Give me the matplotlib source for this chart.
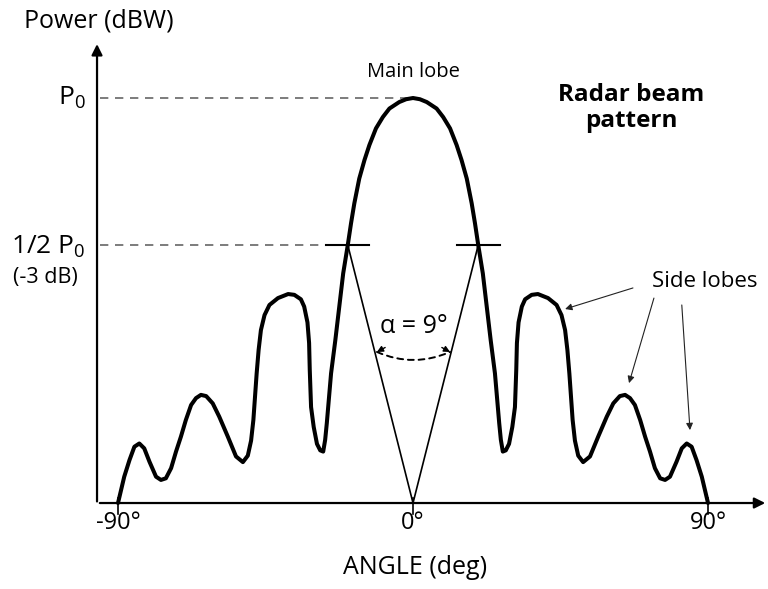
import matplotlib
matplotlib.use("Agg")
import matplotlib.pyplot as plt

# --- Data (right half; the pattern is symmetric) ---
angle_right = [0.0, 2.1, 4.2, 7.2, 9.2, 11.3, 13.3, 14.8, 16.4, 17.9, 18.9, 19.9,
               21.3, 22.5, 23.7, 25.0, 25.7, 26.3, 26.8, 27.4, 28.3, 29.3, 30.3,
               31.1, 31.5, 31.7, 32.2, 33.2, 34.2, 36.2, 38.1, 41.2, 43.8, 45.3,
               46.4, 47.1, 47.7, 48.2, 48.7, 49.4, 50.4, 51.9, 54.0, 56.5, 59.1,
               61.1, 63.1, 64.7, 66.2, 67.7, 69.3, 70.8, 72.3, 73.8, 75.4, 76.9,
               78.4, 80.4, 82.0, 83.5, 85.0, 86.5, 88.1, 89.3, 90.0]
power_right = [1.000, 0.997, 0.990, 0.974, 0.953, 0.925, 0.884, 0.847, 0.801,
               0.740, 0.691, 0.637, 0.567, 0.485, 0.402, 0.320, 0.254, 0.197,
               0.156, 0.127, 0.130, 0.146, 0.188, 0.237, 0.329, 0.395, 0.446,
               0.485, 0.503, 0.514, 0.516, 0.506, 0.489, 0.464, 0.427, 0.378,
               0.320, 0.262, 0.205, 0.154, 0.117, 0.101, 0.115, 0.164, 0.213,
               0.246, 0.264, 0.267, 0.259, 0.242, 0.205, 0.164, 0.127, 0.086,
               0.061, 0.057, 0.065, 0.102, 0.135, 0.147, 0.139, 0.106, 0.065,
               0.024, 0.0]

angle = [-a for a in angle_right[::-1]] + angle_right[1:]
power = power_right[::-1] + power_right[1:]

P0 = 1.0
HALF_P0 = 0.637
HALF_ANGLE = 19.9
ARC_ANGLE = 11.0
ARC_LEVEL = 0.373
xticks = [-90, 0, 90]
xtick_labels = ["-90°", "0°", "90°"]

# --- Style ---
plt.rcParams["font.family"] = ["Open Sans", "DejaVu Sans"]
plt.rcParams["mathtext.fontset"] = "custom"
plt.rcParams["mathtext.rm"] = "Open Sans"
plt.rcParams["mathtext.it"] = "Open Sans"

fig = plt.figure(figsize=(7.68, 5.89), dpi=100)
ax = fig.add_axes([0, 0, 1, 1])
ax.set_xlim(-126.0, 108.3)
ax.set_ylim(-0.2123, 1.2420)
ax.axis("off")

# --- Axes drawn as arrows ---
y_axis_x = -96.4
ax.annotate("", xy=(y_axis_x, 1.14), xytext=(y_axis_x, -0.003),
            arrowprops=dict(arrowstyle="-|>", lw=1.6, color="black", mutation_scale=16))
ax.annotate("", xy=(108.3, 0.0), xytext=(y_axis_x, 0.0),
            arrowprops=dict(arrowstyle="-|>", lw=1.6, color="black", mutation_scale=16))
for t, lab in zip(xticks, xtick_labels):
    ax.plot([t, t], [0.012, -0.027], color="black", lw=1.2)
    ax.text(t, -0.05, lab, ha="center", va="center", fontsize=17)
ax.text(0.5, -0.158, "ANGLE (deg)", ha="center", va="center", fontsize=18)
ax.text(-95.9, 1.19, "Power (dBW)", ha="center", va="center", fontsize=18)

# --- Reference levels ---
ax.plot([y_axis_x + 0.8, 0], [P0, P0], color="#666666", lw=1.2, dashes=(5, 4))
ax.plot([y_axis_x + 0.8, -26.5], [HALF_P0, HALF_P0], color="#666666", lw=1.2, dashes=(5, 4))
ax.text(-99.8, P0, r"P$_0$", ha="right", va="center", fontsize=19)
ax.text(-99.8, HALF_P0 - 0.005, r"1/2 P$_0$", ha="right", va="center", fontsize=19)
ax.text(-112.3, 0.556, "(-3 dB)", ha="center", va="center", fontsize=15.5)

# --- Beam pattern ---
ax.plot(angle, power, color="black", lw=2.9, solid_joinstyle="round", solid_capstyle="round")

# half-power markers and beam-width lines
for s in (-1, 1):
    ax.plot([s * HALF_ANGLE - 6.6, s * HALF_ANGLE + 6.6], [HALF_P0, HALF_P0], color="black", lw=1.5)
    ax.plot([s * HALF_ANGLE, 0], [HALF_P0, 0], color="black", lw=1.2)

# beam width arc
ax.annotate("", xy=(ARC_ANGLE + 0.3, ARC_LEVEL), xytext=(-ARC_ANGLE, ARC_LEVEL),
            arrowprops=dict(arrowstyle="-", lw=1.4, ls=(0, (3, 2.5)), color="black",
                            connectionstyle="arc3,rad=0.22", shrinkA=0, shrinkB=0))
ax.annotate("", xy=(-ARC_ANGLE, ARC_LEVEL), xytext=(-ARC_ANGLE + 2.5, ARC_LEVEL + 0.011),
            arrowprops=dict(arrowstyle="-|>", lw=1.0, color="black", mutation_scale=9,
                            shrinkA=0, shrinkB=0))
ax.annotate("", xy=(ARC_ANGLE + 0.3, ARC_LEVEL), xytext=(ARC_ANGLE - 2.2, ARC_LEVEL + 0.011),
            arrowprops=dict(arrowstyle="-|>", lw=1.0, color="black", mutation_scale=9,
                            shrinkA=0, shrinkB=0))
ax.text(0.3, 0.437, "α = 9°", ha="center", va="center", fontsize=18)

# --- Annotations ---
ax.text(0.0, 1.064, "Main lobe", ha="center", va="center", fontsize=14.5)
ax.text(66.5, 0.975, "Radar beam\npattern", ha="center", va="center", fontsize=17.5,
        fontweight="bold", linespacing=1.15)
ax.text(89.1, 0.546, "Side lobes", ha="center", va="center", fontsize=16)
side_arrows = [((67.1, 0.531), (46.4, 0.479)),
               ((73.5, 0.506), (65.9, 0.296)),
               ((82.0, 0.489), (84.5, 0.180))]
for (x0, y0), (x1, y1) in side_arrows:
    ax.annotate("", xy=(x1, y1), xytext=(x0, y0),
                arrowprops=dict(arrowstyle="-|>", lw=0.8, color="#222222",
                                mutation_scale=10, shrinkA=0, shrinkB=0))

fig.savefig("out.png", dpi=100)
